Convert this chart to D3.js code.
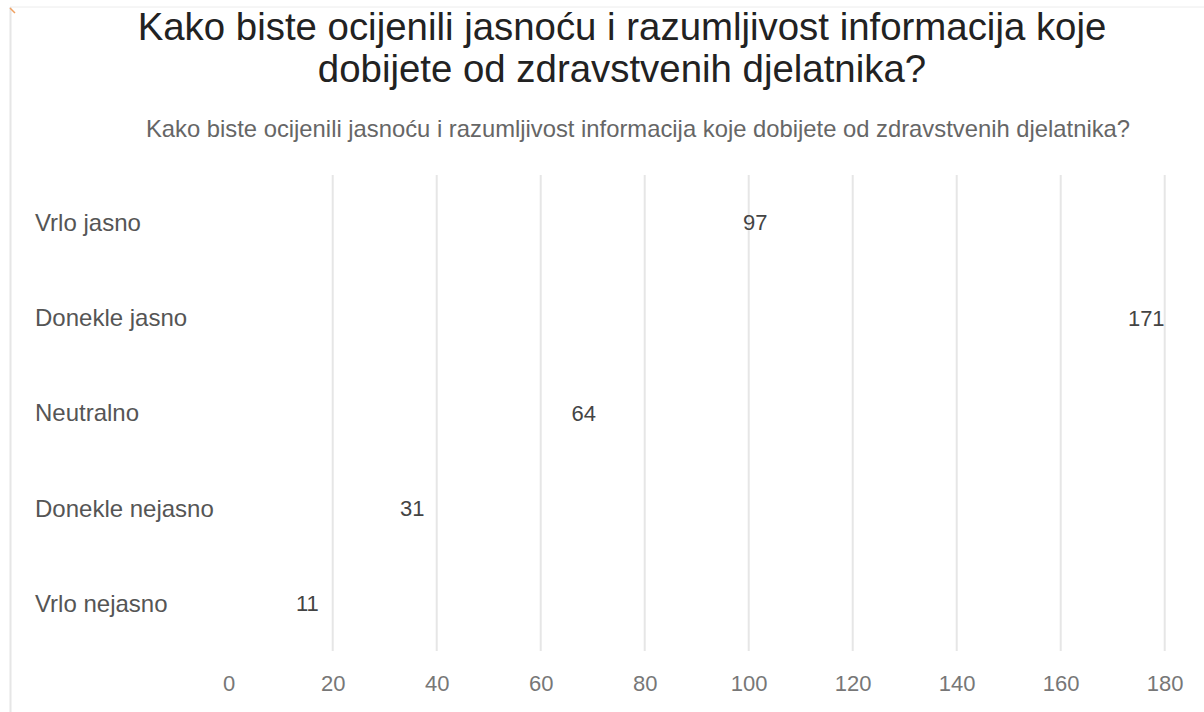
<!DOCTYPE html>
<html>
<head>
<meta charset="utf-8">
<script src="https://cdn.jsdelivr.net/npm/d3@7"></script>
<style>
  body { margin: 0; background: #fff; }
  svg { display: block; font-family: "Liberation Sans", Arial, sans-serif; }
</style>
</head>
<body>
<svg id="chart" width="1204" height="712"></svg>
<script>
const categories = ['Vrlo jasno', 'Donekle jasno', 'Neutralno', 'Donekle nejasno', 'Vrlo nejasno'];
const values = [97, 171, 64, 31, 11];
const tickValues = [0, 20, 40, 60, 80, 100, 120, 140, 160, 180];
const titleLines = ['Kako biste ocijenili jasnoću i razumljivost informacija koje', 'dobijete od zdravstvenih djelatnika?'];
const subtitle = 'Kako biste ocijenili jasnoću i razumljivost informacija koje dobijete od zdravstvenih djelatnika?';

const svg = d3.select('#chart');

// frame edges (the screenshot shows the card border)
svg.append('line').attr('x1', 10).attr('x2', 1204).attr('y1', 7).attr('y2', 7)
  .attr('stroke', '#ececec').attr('stroke-width', 1);
svg.append('line').attr('x1', 10.5).attr('x2', 10.5).attr('y1', 7).attr('y2', 712)
  .attr('stroke', '#e6e6e6').attr('stroke-width', 2);
svg.append('line').attr('x1', 10).attr('x2', 15).attr('y1', 8).attr('y2', 13)
  .attr('stroke', '#f0a060').attr('stroke-width', 1.5);

const x = d3.scaleLinear().domain([0, 180]).range([228.7, 1164.7]);
const y = d3.scaleBand().domain(categories).range([175, 651]);

// gridlines
const g = svg.append('g');
g.selectAll('line.grid')
  .data(tickValues.filter(d => d > 0))
  .join('line')
  .attr('class', 'grid')
  .attr('x1', d => x(d)).attr('x2', d => x(d))
  .attr('y1', 175).attr('y2', 651)
  .attr('stroke', '#e6e6e6').attr('stroke-width', 2);

// bars (transparent in the original)
g.selectAll('rect.bar')
  .data(values)
  .join('rect')
  .attr('class', 'bar')
  .attr('x', x(0))
  .attr('y', (d, i) => y(categories[i]) + y.bandwidth() * 0.2)
  .attr('width', d => x(d) - x(0))
  .attr('height', y.bandwidth() * 0.6)
  .attr('fill', 'none');

// value labels
g.selectAll('text.val')
  .data(values)
  .join('text')
  .attr('class', 'val')
  .attr('x', d => x(d) + 10)
  .attr('y', (d, i) => y(categories[i]) + y.bandwidth() / 2)
  .attr('dy', '0.35em')
  .attr('font-size', 22)
  .attr('fill', '#444')
  .text(d => d);

// category labels
g.selectAll('text.cat')
  .data(categories)
  .join('text')
  .attr('class', 'cat')
  .attr('x', 35)
  .attr('y', d => y(d) + y.bandwidth() / 2)
  .attr('dy', '0.35em')
  .attr('font-size', 24)
  .attr('fill', '#555')
  .text(d => d);

// x axis
const xAxis = svg.append('g')
  .attr('transform', 'translate(0,683)')
  .call(d3.axisBottom(x).tickValues(tickValues).tickSize(0).tickPadding(0));
xAxis.select('.domain').remove();
xAxis.selectAll('text')
  .attr('dy', '0.35em')
  .attr('font-size', 22)
  .attr('font-family', '"Liberation Sans", Arial, sans-serif')
  .attr('fill', '#777');

// titles
svg.append('g').selectAll('text')
  .data(titleLines)
  .join('text')
  .attr('x', 622)
  .attr('y', (d, i) => 40 + i * 42)
  .attr('text-anchor', 'middle')
  .attr('font-size', 38.4)
  .attr('fill', '#222')
  .text(d => d);

svg.append('text')
  .attr('x', 638)
  .attr('y', 137)
  .attr('text-anchor', 'middle')
  .attr('font-size', 23.8)
  .attr('fill', '#666')
  .text(subtitle);
</script>
</body>
</html>
